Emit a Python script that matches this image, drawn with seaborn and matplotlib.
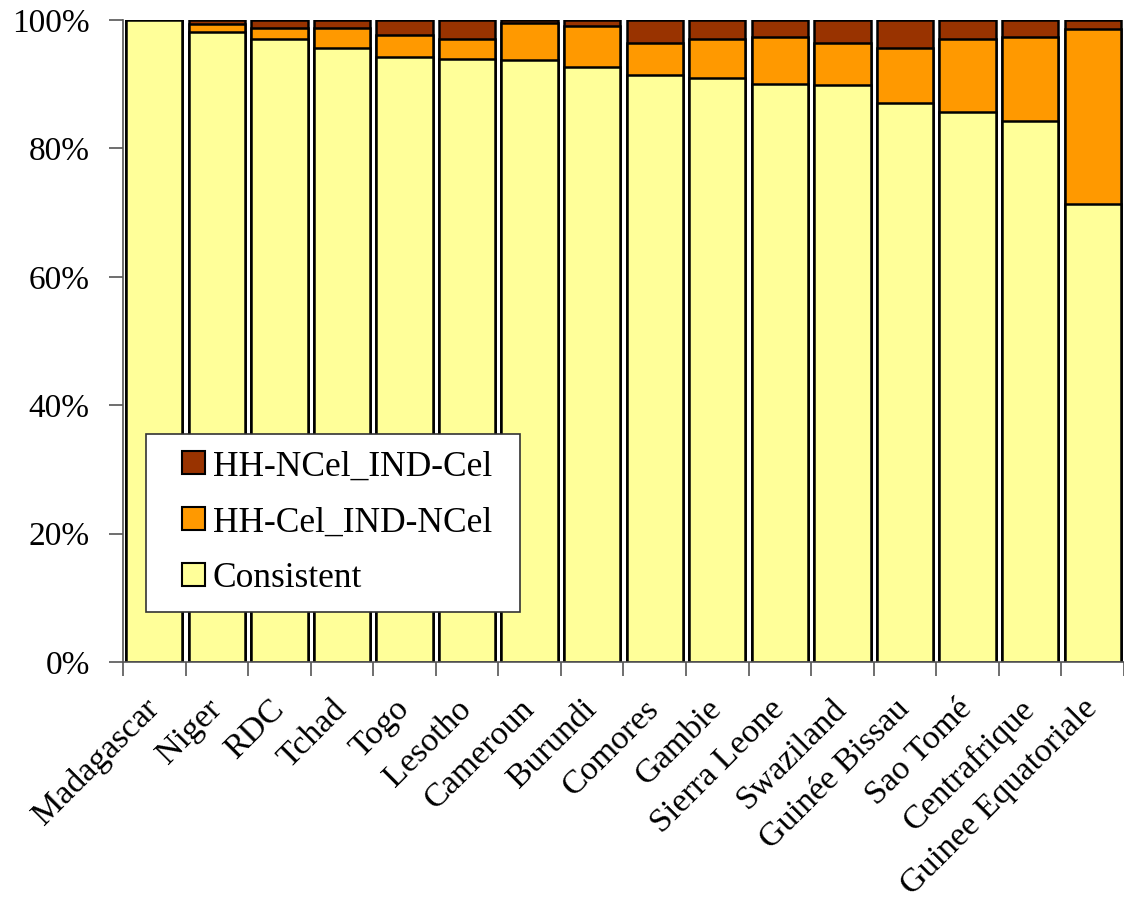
import matplotlib
matplotlib.use("Agg")
import matplotlib.pyplot as plt
import matplotlib.transforms as mtransforms
from matplotlib.patches import Patch, Rectangle
from matplotlib.legend_handler import HandlerPatch
from matplotlib.ticker import FuncFormatter
import numpy as np
import pandas as pd
import seaborn as sns

# Share of respondents by consistency of mobile phone reporting (household vs individual)
countries = ["Madagascar", "Niger", "RDC", "Tchad", "Togo", "Lesotho", "Cameroun",
             "Burundi", "Comores", "Gambie", "Sierra Leone", "Swaziland",
             "Guinée Bissau", "Sao Tomé", "Centrafrique", "Guinee Equatoriale"]
consistent = [100.0, 98.1, 97.1, 95.6, 94.3, 93.9, 93.7, 92.6, 91.5, 90.9,
              90.1, 89.8, 87.0, 85.6, 84.2, 71.3]
hh_cel_ind_ncel = [0.0, 1.3, 1.7, 3.2, 3.4, 3.1, 5.8, 6.5, 4.9, 6.1,
                   7.3, 6.6, 8.6, 11.5, 13.2, 27.3]
hh_ncel_ind_cel = [0.0, 0.6, 1.2, 1.2, 2.3, 3.0, 0.5, 0.9, 3.6, 3.0,
                   2.6, 3.6, 4.4, 2.9, 2.6, 1.4]

series_names = ["Consistent", "HH-Cel_IND-NCel", "HH-NCel_IND-Cel"]
series_colors = ["#FFFF99", "#FF9900", "#993300"]

df = pd.DataFrame({
    "country": countries,
    "Consistent": consistent,
    "HH-Cel_IND-NCel": hh_cel_ind_ncel,
    "HH-NCel_IND-Cel": hh_ncel_ind_cel,
})
# cumulative heights for stacking
cum = df[series_names].cumsum(axis=1)
cum["country"] = df["country"]

sns.set_theme(style="white")
plt.rcParams["font.family"] = ["Liberation Serif", "DejaVu Serif"]
plt.rcParams["text.color"] = "black"
plt.rcParams["xtick.color"] = "black"
plt.rcParams["ytick.color"] = "black"
plt.rcParams["xtick.labelcolor"] = "black"
plt.rcParams["ytick.labelcolor"] = "black"

fig = plt.figure(figsize=(11.24, 8.99), dpi=100)
ax = fig.add_axes([0.1094, 0.2636, 0.8906, 0.7142])

# draw tallest layer first so lower segments sit on top
for name, color in reversed(list(zip(series_names, series_colors))):
    sns.barplot(data=cum, x="country", y=name, color=color, width=0.9,
                edgecolor="black", linewidth=1.8, saturation=1,
                errorbar=None, ax=ax)

ax.set_xlim(-0.5, len(countries) - 0.5)
ax.set_ylim(0, 100)
ax.set_yticks(np.arange(0, 101, 20))
ax.yaxis.set_major_formatter(FuncFormatter(lambda v, p: f"{int(v)}%"))
ax.set_xlabel("")
ax.set_ylabel("")

# ticks at category boundaries, labels at category centres
ax.set_xticks(np.arange(-0.5, len(countries), 1.0), minor=False)
ax.set_xticklabels([])
ax.set_xticks(np.arange(len(countries)), minor=True)
ax.set_xticklabels(countries, minor=True, rotation=45, ha="right", va="center",
                   rotation_mode="anchor", fontsize=24.5)
shift = mtransforms.ScaledTranslation(-20 / 100, 0, fig.dpi_scale_trans)
for lbl in ax.get_xticklabels(minor=True):
    lbl.set_transform(lbl.get_transform() + shift)
ax.tick_params(axis="x", which="major", direction="out", length=10, width=1.2,
               color="#555555", bottom=True)
ax.tick_params(axis="x", which="minor", length=0, pad=30.5, bottom=True)
ax.tick_params(axis="y", direction="out", length=10, width=1.2, color="#555555",
               labelsize=24, pad=14, left=True)

for side in ["top", "right"]:
    ax.spines[side].set_visible(False)
for side in ["left", "bottom"]:
    ax.spines[side].set_color("#555555")
    ax.spines[side].set_linewidth(1.2)


def square_patch(legend, orig_handle, xdescent, ydescent, width, height, fontsize):
    side = 0.65 * fontsize
    return Rectangle((-xdescent + width - side, -ydescent + (height - side) / 2),
                     side, side)


handles = [Patch(facecolor=c, edgecolor="black", linewidth=1.5, label=n)
           for n, c in zip(series_names, series_colors)][::-1]
leg = ax.legend(handles=handles, loc="lower left",
                bbox_to_anchor=(0.023, 0.0779, 0.3736, 0.2), mode="expand",
                fontsize=25.5, frameon=True, fancybox=False,
                borderpad=0.47, labelspacing=0.65,
                handlelength=1.19, handleheight=0.65, handletextpad=0.23,
                borderaxespad=0,
                handler_map={Patch: HandlerPatch(patch_func=square_patch)})
leg.get_frame().set_edgecolor("#333333")
leg.get_frame().set_linewidth(1.2)
leg.get_frame().set_alpha(1)

fig.savefig("out.png", dpi=100)
